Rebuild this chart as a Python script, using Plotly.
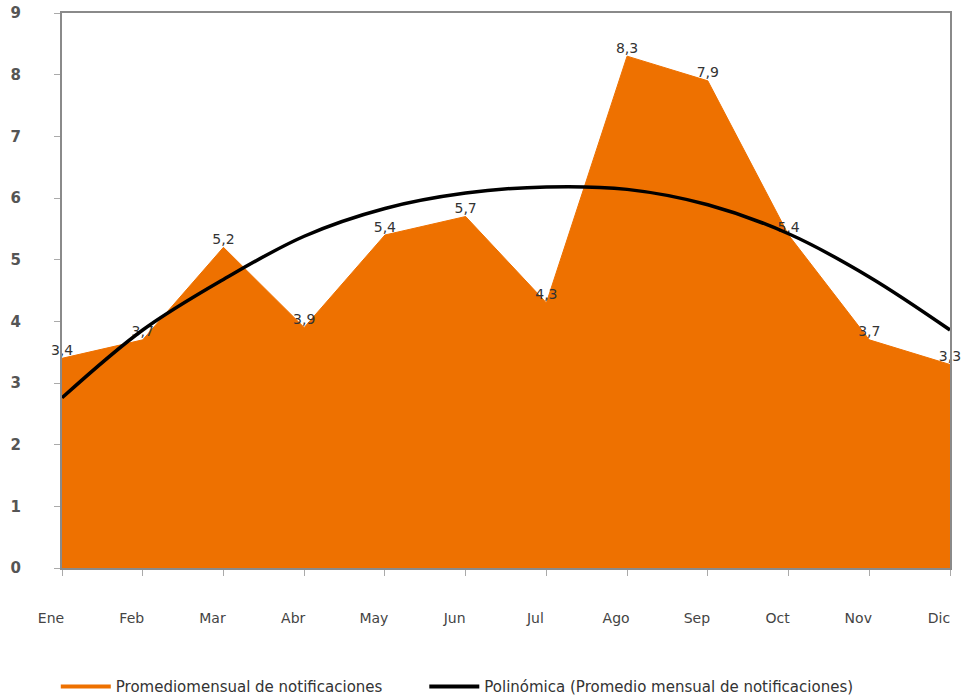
import plotly.graph_objects as go

months = ["Ene", "Feb", "Mar", "Abr", "May", "Jun", "Jul", "Ago", "Sep", "Oct", "Nov", "Dic"]
promedio = [3.4, 3.7, 5.2, 3.9, 5.4, 5.7, 4.3, 8.3, 7.9, 5.4, 3.7, 3.3]
tendencia = [2.76, 3.86, 4.68, 5.38, 5.83, 6.08, 6.18, 6.14, 5.89, 5.42, 4.72, 3.86]

name_area = "Promediomensual de notificaciones"
name_trend = "Polinómica (Promedio mensual de notificaciones)"

ORANGE = "#EE7100"
FONT = "DejaVu Sans"

labels = [f"{v:.1f}".replace(".", ",") for v in promedio]

fig = go.Figure()
fig.add_trace(go.Scatter(
    x=months, y=promedio, mode="lines+text", fill="tozeroy",
    fillcolor=ORANGE, line=dict(color=ORANGE, width=1),
    text=labels, textposition="top center",
    textfont=dict(family=FONT, size=14, color="#333333"),
    showlegend=False, cliponaxis=False,
))
fig.add_trace(go.Scatter(
    x=months, y=tendencia, mode="lines",
    line=dict(color="black", width=3.5, shape="spline"),
    showlegend=False,
))
# legend entries drawn as line samples
fig.add_trace(go.Scatter(x=[None], y=[None], mode="lines", legend="legend",
                         line=dict(color=ORANGE, width=4), name=name_area))
fig.add_trace(go.Scatter(x=[None], y=[None], mode="lines", legend="legend2",
                         line=dict(color="black", width=4), name=name_trend))

legend_style = dict(orientation="h", xanchor="left", y=-0.214, yanchor="middle",
                    font=dict(family=FONT, size=15, color="#333333"),
                    itemwidth=50, bgcolor="rgba(0,0,0,0)")

fig.update_layout(
    width=965, height=700,
    margin=dict(l=62, r=15, t=13, b=132, autoexpand=False),
    plot_bgcolor="white", paper_bgcolor="white",
    font=dict(family=FONT, size=14, color="#444444"),
    legend=dict(x=-0.007, **legend_style),
    legend2=dict(x=0.408, **legend_style),
)
fig.update_xaxes(
    type="category", range=[0, 11], showgrid=False, automargin=False,
    showline=True, linecolor="#8a8a8a", linewidth=2, mirror=True,
    ticks="outside", ticklen=6, tickcolor="#aaaaaa",
    ticklabelstandoff=30, ticklabelshift=-11,
    tickfont=dict(family=FONT, size=14, color="#444444"),
)
fig.update_yaxes(
    range=[0, 9], dtick=1, showgrid=False, zeroline=False, automargin=False,
    showline=True, linecolor="#8a8a8a", linewidth=2, mirror=True,
    ticks="outside", ticklen=6, tickcolor="#aaaaaa",
    ticklabelstandoff=30,
    tickfont=dict(family=FONT, size=15, color="#555555", weight="bold"),
)

fig.write_html("out.html", config={"displayModeBar": False},
               post_script="document.body.style.margin='0';")
